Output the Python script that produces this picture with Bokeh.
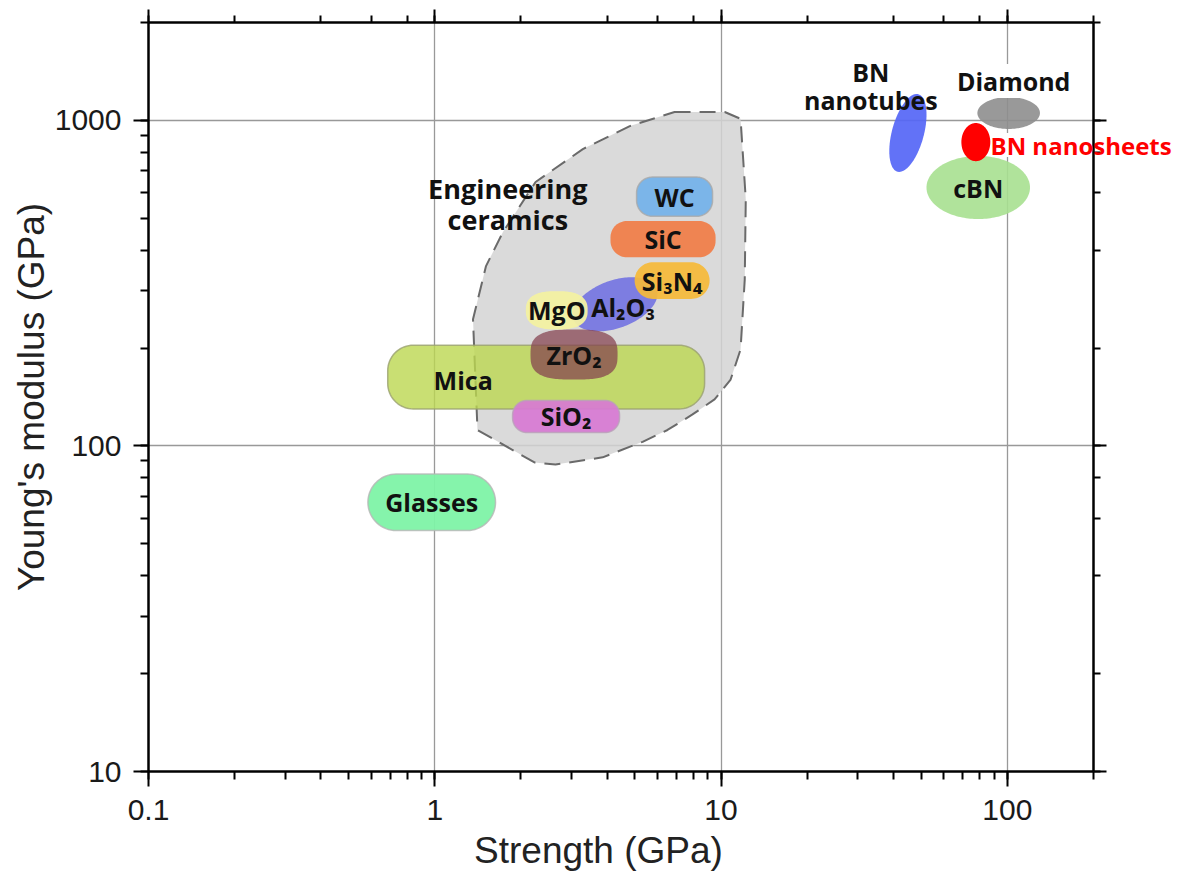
import numpy as np
from bokeh.plotting import figure
from bokeh.models import (LogAxis, Label, ColumnDataSource, Range1d, FixedTicker,
                          CustomJSTickFormatter, BoxAnnotation)
from bokeh.core.properties import value
from bokeh.embed import file_html
from bokeh.resources import INLINE

# ---------------- data ----------------
X_START, X_END = 0.1, 200      # Strength (GPa)
Y_START, Y_END = 10, 2000      # Young's modulus (GPa)
x_tick_labels = ["0.1", "1", "10", "100"]
y_tick_labels = ["10", "100", "1000"]

# material property regions (drawing order)
materials = ["Al₂O₃", "Mica", "ZrO₂", "MgO", "Si₃N₄", "SiC", "WC", "SiO₂",
             "Glasses", "cBN", "Diamond", "BN nanosheets", "BN nanotubes"]
strength_lo = [3.03, 0.685, 2.16, 2.08, 4.99, 4.11, 5.07, 1.87, 0.584, 52.2, 78.6, 69.1, 38.7]
strength_hi = [6.0, 8.76, 4.35, 3.42, 9.12, 9.57, 9.34, 4.42, 1.63, 120.0, 130.0, 87.2, 52.2]
modulus_lo = [225, 130, 160, 228, 283, 380, 508, 110, 55, 498, 942, 750, 695]
modulus_hi = [330, 204, 228, 299, 367, 491, 670, 138, 82, 778, 1180, 982, 1206]

# "Engineering ceramics" envelope outline
env_strength = [6.88, 10.3, 11.7, 12.2, 12.1, 11.7, 10.8, 9.49, 7.95, 6.5, 5.32, 3.86,
                2.64, 2.23, 1.41, 1.36, 1.51, 1.73, 2.25, 3.29, 4.80]
env_modulus = [1062, 1062, 1012, 573, 325, 198, 160, 139, 125, 112, 103, 92.3,
               87.7, 89, 112, 245, 357, 454, 647, 817, 961]
env_label = "Engineering\nceramics"
env_label_strength, env_label_modulus = 1.80, 553

x_title = "Strength (GPa)"
y_title = "Young's modulus (GPa)"

# ---------------- styles / layout ----------------
STYLE = {
    "Al₂O₃":   dict(kind="ellipse", tilt=20, fill="#6c6ce2", alpha=0.85, line=None),
    "Mica":    dict(kind="pill", rf=0.8, fill="#bcd750", alpha=0.8, line="#9aa070"),
    "ZrO₂":    dict(kind="blob", n=3.0, fill="#84404e", alpha=0.72, line=None),
    "MgO":     dict(kind="blob", n=2.6, fill="#f3f1a2", alpha=0.95, line=None),
    "Si₃N₄":   dict(kind="pill", rf=1.0, fill="#f6ba38", alpha=0.92, line=None),
    "SiC":     dict(kind="pill", rf=0.9, fill="#f07f4b", alpha=0.95, line=None),
    "WC":      dict(kind="pill", rf=0.8, fill="#76b3ea", alpha=0.95, line="#a9a9a9"),
    "SiO₂":    dict(kind="pill", rf=0.9, fill="#d879d4", alpha=0.92, line="#b9a0b9"),
    "Glasses": dict(kind="pill", rf=1.0, fill="#7ef3a6", alpha=0.95, line="#b5b5b5"),
    "cBN":     dict(kind="ellipse", tilt=0, fill="#a7e090", alpha=0.9, line=None),
    "Diamond": dict(kind="ellipse", tilt=0, fill="#8e8e8e", alpha=0.9, line=None),
    "BN nanosheets": dict(kind="ellipse", tilt=0, fill="#ff0000", alpha=1.0, line=None),
    "BN nanotubes":  dict(kind="ellipse", tilt=75, fill="#5566f6", alpha=0.92, line=None),
}
# label offsets from region centre in screen px (right, up)
LABEL_OFFSET = {"Mica": (-83, -3), "Al₂O₃": (8, -3), "BN nanotubes": (-37, 47),
                "Diamond": (5, 32), "BN nanosheets": (18, -3)}
LABEL_TEXT = {"BN nanotubes": "BN\nnanotubes"}

FRAME_W, FRAME_H = 945, 749
LEFT, RIGHT, TOP, BOTTOM = 148, 85, 22, 106
KX = FRAME_W / np.log10(X_END / X_START)
KY = FRAME_H / np.log10(Y_END / Y_START)


def to_px(x, y):
    return np.log10(x) * KX, np.log10(y) * KY


def from_px(u, v):
    return 10 ** (np.asarray(u) / KX), 10 ** (np.asarray(v) / KY)


def outline(xlo, xhi, ylo, yhi, st):
    u0, v0 = to_px(xlo, ylo)
    u1, v1 = to_px(xhi, yhi)
    cu, cv = (u0 + u1) / 2, (v0 + v1) / 2
    W, H = (u1 - u0) / 2, (v1 - v0) / 2
    t = np.linspace(0, 2 * np.pi, 160, endpoint=False)
    kind = st["kind"]
    if kind == "pill":
        r = min(W, H) * st.get("rf", 1.0)
        pts = []
        for ccx, ccy, a0 in [(cu + W - r, cv + H - r, 0), (cu - W + r, cv + H - r, 90),
                             (cu - W + r, cv - H + r, 180), (cu + W - r, cv - H + r, 270)]:
            a = np.radians(np.linspace(a0, a0 + 90, 18))
            pts.append(np.c_[ccx + r * np.cos(a), ccy + r * np.sin(a)])
        P = np.vstack(pts)
        us, vs = P[:, 0], P[:, 1]
    elif kind == "ellipse":
        th = np.radians(st.get("tilt", 0))
        if th:
            C, S = np.cos(th) ** 2, np.sin(th) ** 2
            D = C * C - S * S
            A = np.sqrt(max((W * W * C - H * H * S) / D, 4))
            B = np.sqrt(max((H * H * C - W * W * S) / D, 4))
        else:
            A, B = W, H
        ex, ey = A * np.cos(t), B * np.sin(t)
        us = cu + ex * np.cos(th) - ey * np.sin(th)
        vs = cv + ex * np.sin(th) + ey * np.cos(th)
    else:  # blob (superellipse)
        n = st.get("n", 3)
        c, s = np.cos(t), np.sin(t)
        us = cu + W * np.sign(c) * np.abs(c) ** (2 / n)
        vs = cv + H * np.sign(s) * np.abs(s) ** (2 / n)
    xs, ys = from_px(us, vs)
    return list(xs), list(ys)


def text_axis(tick, text, standoff, size, color, font, style="normal"):
    """A line-less, tick-less axis that only carries one text label."""
    ax = LogAxis(ticker=FixedTicker(ticks=[tick], minor_ticks=[]),
                 major_label_overrides={tick: text})
    ax.axis_line_color = None
    ax.major_tick_line_color = None
    ax.minor_tick_line_color = None
    ax.major_tick_out = ax.minor_tick_out = ax.major_tick_in = ax.minor_tick_in = 0
    ax.major_label_standoff = standoff
    ax.major_label_text_font = font
    ax.major_label_text_font_style = style
    ax.major_label_text_font_size = size
    ax.major_label_text_color = color
    return ax


p = figure(x_axis_type="log", y_axis_type="log",
           x_range=Range1d(X_START, X_END), y_range=Range1d(Y_START, Y_END),
           width=LEFT + FRAME_W + RIGHT, height=TOP + FRAME_H + BOTTOM,
           min_border_left=LEFT, min_border_right=RIGHT,
           min_border_top=TOP, min_border_bottom=BOTTOM,
           output_backend="svg", toolbar_location=None)
p.outline_line_color = None
p.background_fill_color = "white"

fmt_code = "return parseFloat(tick.toPrecision(6)).toString()"
p.xaxis[0].formatter = CustomJSTickFormatter(code=fmt_code)
p.yaxis[0].formatter = CustomJSTickFormatter(code=fmt_code)

# mirrored axes
p.add_layout(LogAxis(), "above")
p.add_layout(LogAxis(), "right")

for ax in p.axis:
    ax.axis_line_width = 2.5
    ax.axis_line_color = "black"
    ax.major_tick_line_width = 2
    ax.minor_tick_line_width = 2
    ax.major_tick_line_color = "black"
    ax.minor_tick_line_color = "black"
    ax.major_tick_in = 0
    ax.minor_tick_in = 0
    ax.major_tick_out = 15
    ax.minor_tick_out = 8
    ax.major_label_text_font = "Liberation Sans"
    ax.major_label_text_font_size = "30px"
    ax.major_label_text_color = "#1a1a1a"

for ax in (p.above[0], p.right[0]):
    ax.major_label_text_color = None
    ax.major_label_text_font_size = "0px"
    ax.major_label_standoff = 0
    ax.major_tick_out = 13
    ax.minor_tick_out = 7

p.below[0].major_label_standoff = 13
p.left[0].major_label_standoff = 12
p.left[0].axis_label = y_title
p.left[0].axis_label_standoff = 0
p.left[0].axis_label_text_font = "Liberation Sans"
p.left[0].axis_label_text_font_size = "37px"
p.left[0].axis_label_text_font_style = "normal"
p.left[0].axis_label_text_color = "#222222"

# x title sits a little left of the frame centre in the reference
xt, _ = from_px(np.log10(X_START) * KX + 450, 0)
title_axis = text_axis(float(xt), x_title, 7, "37px", "#222222", "Liberation Sans")
title_axis.major_label_text_line_height = 0.8
p.add_layout(title_axis, "below")

p.xgrid.grid_line_color = "#999999"
p.ygrid.grid_line_color = "#999999"
p.xgrid.grid_line_width = 1.3
p.ygrid.grid_line_width = 1.3

# envelope
p.patch(env_strength, env_modulus, fill_color="#d4d4d4", fill_alpha=0.85,
        line_color="#6a6a6a", line_width=2, line_dash="16 9")

# material regions
xs, ys, fills, alphas, lines, lalpha = [], [], [], [], [], []
for m, a, b, c, d in zip(materials, strength_lo, strength_hi, modulus_lo, modulus_hi):
    st = STYLE[m]
    X, Y = outline(a, b, c, d, st)
    xs.append(X)
    ys.append(Y)
    fills.append(st["fill"])
    alphas.append(st["alpha"])
    lines.append(st["line"] if st["line"] else st["fill"])
    lalpha.append(0.8 if st["line"] else 0.0)
p.patches(xs="xs", ys="ys", fill_color="fill", fill_alpha="alpha", line_color="line",
          line_alpha="lalpha", line_width=1.5,
          source=ColumnDataSource(dict(xs=xs, ys=ys, fill=fills, alpha=alphas,
                                       line=lines, lalpha=lalpha)))

# labels
lx, ly, lt, lsize = [], [], [], []
special = {}
for m, a, b, c, d in zip(materials, strength_lo, strength_hi, modulus_lo, modulus_hi):
    cu = (np.log10(a) + np.log10(b)) / 2 * KX
    cv = (np.log10(c) + np.log10(d)) / 2 * KY
    dx, dy = LABEL_OFFSET.get(m, (0, 0))
    X, Y = from_px(cu + dx, cv + dy)
    if m in ("Diamond", "BN nanosheets"):
        special[m] = (float(X), float(Y))
        continue
    lx.append(float(X))
    ly.append(float(Y))
    lt.append(LABEL_TEXT.get(m, m))
    lsize.append("25px")
lx.append(env_label_strength)
ly.append(env_label_modulus)
lt.append(env_label)
lsize.append("27px")

p.text(x="x", y="y", text="t", text_font_size="s",
       source=ColumnDataSource(dict(x=lx, y=ly, t=lt, s=lsize)),
       text_font=value("Open Sans"), text_font_style="bold",
       text_color="#111111", text_align="center", text_baseline="middle",
       text_line_height=0.84)

dxs, dys = special["Diamond"]
p.add_layout(Label(x=dxs, y=dys, text="Diamond", text_font="Open Sans",
                   text_font_style="bold", text_font_size="25px", text_color="#111111",
                   text_align="center", text_baseline="middle",
                   background_fill_color="white", background_fill_alpha=1.0))

# "BN nanosheets" runs past the right frame edge: carried by a line-less right axis
nxs, nys = special["BN nanosheets"]
u_l, v_l = to_px(nxs, nys)
_, yb0 = from_px(0, v_l - 12)
_, yb1 = from_px(0, v_l + 12)
p.add_layout(BoxAnnotation(left=nxs, right=X_END, bottom=float(yb0), top=float(yb1),
                           fill_color="white", fill_alpha=1.0, line_color=None,
                           level="underlay"))
frame_right_u = np.log10(X_END) * KX
p.add_layout(text_axis(nys, "BN nanosheets", int(round(u_l - frame_right_u - 16)),
                       "24px", "#ff0000", "Open Sans", "bold"), "right")

open("out.html", "w").write(file_html(p, INLINE))
